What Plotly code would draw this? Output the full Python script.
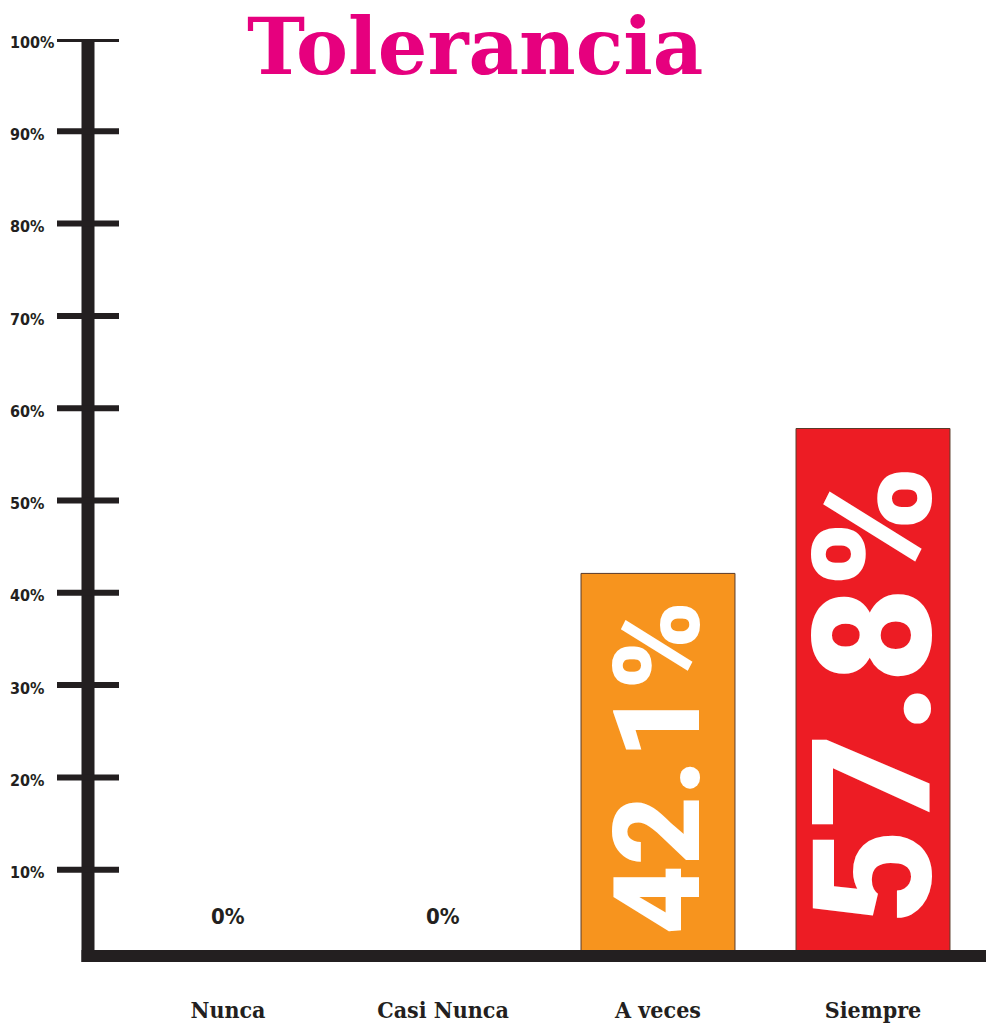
import plotly.graph_objects as go

# Survey answers for "Tolerancia"
categories = ["Nunca", "Casi Nunca", "A veces", "Siempre"]
values = [0, 0, 42.1, 57.8]
bar_colors = ["#F7941E", "#F7941E", "#F7941E", "#ED1C24"]
label_sizes = [22, 22, 120, 165]
y_ticks = [10, 20, 30, 40, 50, 60, 70, 80, 90, 100]
y_tick_text = ["10%", "20%", "30%", "40%", "50%", "60%", "70%", "80%", "90%", "100%"]
title_text = "Tolerancia"

INK = "#231F20"
MAGENTA = "#E6007E"
W, H = 986, 1025
LEFT = 88          # pixel where the plotting area begins
PLOT_W = W - LEFT
PLOT_H = 923

fig = go.Figure()
fig.add_trace(go.Bar(
    x=categories,
    y=values,
    width=0.716,
    marker=dict(color=bar_colors, line=dict(color="#5A3A28", width=1)),
    hoverinfo="skip",
))

annotations = []
for cat, v, size in zip(categories, values, label_sizes):
    txt = f"{v:g}%"
    if v > 0:
        annotations.append(dict(
            x=cat, y=v / 2, xref="x", yref="y", text=txt, showarrow=False,
            textangle=-90,
            font=dict(family="Roboto, Arial Black, sans-serif", size=size,
                      color="white", weight=900),
            xanchor="center", yanchor="middle",
        ))
    else:
        annotations.append(dict(
            x=cat, y=4.9, xref="x", yref="y", text=txt, showarrow=False,
            font=dict(family="Liberation Sans Narrow, DejaVu Sans Condensed, sans-serif",
                      size=size, color=INK, weight="bold"),
            xanchor="center", yanchor="middle",
        ))

# chart title at the very top of the page
annotations.append(dict(
    x=475 / W, y=962 / PLOT_H, xref="paper", yref="paper",
    text=title_text, showarrow=False, xanchor="center", yanchor="top",
    borderpad=0,
    font=dict(family="DejaVu Serif, serif", size=78, color=MAGENTA, weight="bold"),
))

shapes = [
    # vertical axis bar
    dict(type="rect", xref="x domain", xsizemode="pixel", xanchor=0, x0=-6.5, x1=6.5,
         yref="y", ysizemode="pixel", yanchor=0, y0=-1, y1=926,
         fillcolor=INK, line=dict(width=0), layer="above"),
    # horizontal axis bar
    dict(type="rect", xref="x domain", xsizemode="pixel", xanchor=0, x0=-6.5, x1=PLOT_W + 2,
         yref="y", ysizemode="pixel", yanchor=0, y0=-1, y1=12,
         fillcolor=INK, line=dict(width=0), layer="above"),
]
# tick marks crossing the vertical axis
for t in y_ticks:
    shapes.append(dict(type="line", xref="x domain", xsizemode="pixel", xanchor=0,
                       x0=-31, x1=31, yref="y", y0=t, y1=t,
                       line=dict(color=INK, width=6), layer="above"))

fig.update_layout(
    width=W, height=H,
    margin=dict(l=0, r=0, t=39, b=63),
    paper_bgcolor="white", plot_bgcolor="white",
    showlegend=False,
    shapes=shapes,
    annotations=annotations,
    xaxis=dict(
        domain=[LEFT / W, 1],
        range=[(LEFT - 228) / 215, (W - 228) / 215],
        showgrid=False, zeroline=False, showline=False, ticks="",
        ticklabelstandoff=32,
        tickfont=dict(family="DejaVu Serif Condensed, DejaVu Serif, serif",
                      size=23, color=INK, weight="bold"),
    ),
    yaxis=dict(
        range=[0, 100],
        anchor="free", position=0, side="right", automargin=False,
        tickvals=y_ticks, ticktext=y_tick_text,
        showgrid=False, zeroline=False, showline=False, ticks="",
        ticklabelstandoff=9, ticklabelshift=3,
        tickfont=dict(family="Liberation Sans Narrow, DejaVu Sans Condensed, sans-serif",
                      size=16, color=INK, weight="bold"),
    ),
)

fig.write_html("out.html")
